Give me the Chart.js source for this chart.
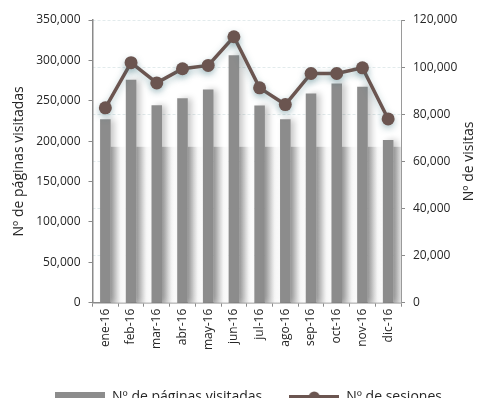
<!DOCTYPE html>
<html lang="es">
<head>
<meta charset="utf-8">
<title>Páginas visitadas y sesiones 2016</title>
<script src="https://cdn.jsdelivr.net/npm/chart.js@4/dist/chart.umd.min.js"></script>
<style>
  html, body { margin: 0; padding: 0; background: #fff; overflow: hidden; }
  canvas { display: block; }
</style>
</head>
<body>
<canvas id="grafico" width="477" height="414"></canvas>
<script>
// datos mensuales 2016
const meses = ['ene-16', 'feb-16', 'mar-16', 'abr-16', 'may-16', 'jun-16',
               'jul-16', 'ago-16', 'sep-16', 'oct-16', 'nov-16', 'dic-16'];
const paginasVisitadas = [227000, 276000, 244500, 253000, 264000, 306500,
                          244000, 227000, 259000, 271500, 267500, 201500];
const sesiones = [82700, 101900, 93300, 99300, 100700, 112900,
                  91200, 84100, 97300, 97300, 99700, 78000];
const ticksPaginas = [0, 50000, 100000, 150000, 200000, 250000, 300000, 350000];
const ticksVisitas = [0, 20000, 40000, 60000, 80000, 100000, 120000];

const GRIS_BARRA = '#8c8c8c';
const MARRON = '#6b5550';
const TEXTO = '#262626';
const EJE = '#8a8a8a';
const FUENTE = '"Open Sans", "Liberation Sans", sans-serif';
const BANDA_INFERIOR = 193000; // hasta donde llega el degradado entre columnas

const fmt = v => Number(v).toLocaleString('en-US');

// iconos de la leyenda
function iconoBarra() {
  const c = document.createElement('canvas');
  c.width = 50; c.height = 11;
  const g = c.getContext('2d');
  g.fillStyle = GRIS_BARRA;
  g.fillRect(0, 0, 50, 11);
  return c;
}
function iconoLinea() {
  const c = document.createElement('canvas');
  c.width = 50; c.height = 12;
  const g = c.getContext('2d');
  g.strokeStyle = MARRON; g.lineWidth = 4;
  g.beginPath(); g.moveTo(0, 6); g.lineTo(50, 6); g.stroke();
  g.fillStyle = MARRON;
  g.beginPath(); g.arc(25, 6, 5.5, 0, Math.PI * 2); g.fill();
  return c;
}
const iconos = [iconoBarra(), iconoLinea()];

// degradado gris entre columnas en la parte baja + sombras
const efectos = {
  id: 'efectos',
  beforeDatasetsDraw(chart) {
    const { ctx, scales } = chart;
    const meta = chart.getDatasetMeta(0);
    const top = scales.y.getPixelForValue(BANDA_INFERIOR);
    const base = scales.y.getPixelForValue(0);
    const paso = scales.x.getPixelForValue(1) - scales.x.getPixelForValue(0);
    ctx.save();
    meta.data.forEach(bar => {
      const x0 = bar.x + bar.width / 2;
      const x1 = bar.x - bar.width / 2 + paso;
      const gr = ctx.createLinearGradient(x0, 0, x1, 0);
      gr.addColorStop(0, '#bababa');
      gr.addColorStop(0.2, '#cdcdcd');
      gr.addColorStop(0.65, '#f6f6f6');
      gr.addColorStop(1, '#fdfdfd');
      ctx.fillStyle = gr;
      ctx.fillRect(x0, top, Math.min(x1, chart.chartArea.right) - x0, base - top);
    });
    ctx.restore();
  },
  beforeDatasetDraw(chart, args) {
    const ctx = chart.ctx;
    ctx.save();
    if (args.meta.type === 'bar') {
      ctx.shadowColor = 'rgba(0,0,0,0.22)';
      ctx.shadowBlur = 6;
      ctx.shadowOffsetX = 4;
    } else {
      ctx.shadowColor = 'rgba(60,115,125,0.4)';
      ctx.shadowBlur = 7;
      ctx.shadowOffsetY = 3;
    }
  },
  afterDatasetDraw(chart) {
    chart.ctx.restore();
  },
  afterLayout(chart) {
    // desplaza la leyenda un poco a la derecha
    chart.legend.left += 10;
    chart.legend.right += 10;
  },
  afterDraw(chart) {
    // título del eje derecho, leído de abajo hacia arriba
    const { ctx, chartArea, scales } = chart;
    ctx.save();
    ctx.translate(scales.y1.right - 8, (chartArea.top + chartArea.bottom) / 2);
    ctx.rotate(-Math.PI / 2);
    ctx.textAlign = 'center';
    ctx.textBaseline = 'middle';
    ctx.font = '14px ' + FUENTE;
    ctx.fillStyle = TEXTO;
    ctx.fillText('Nº de visitas', 0, 0);
    ctx.restore();
  }
};

Chart.defaults.font.family = FUENTE;
Chart.defaults.color = TEXTO;

new Chart(document.getElementById('grafico'), {
  data: {
    labels: meses,
    datasets: [
      {
        type: 'bar',
        label: 'Nº de páginas visitadas',
        data: paginasVisitadas,
        yAxisID: 'y',
        backgroundColor: GRIS_BARRA,
        categoryPercentage: 1,
        barPercentage: 0.41,
        order: 1
      },
      {
        type: 'line',
        label: 'Nº de sesiones',
        data: sesiones,
        yAxisID: 'y1',
        borderColor: MARRON,
        backgroundColor: MARRON,
        borderWidth: 3.5,
        pointRadius: 6.5,
        pointHoverRadius: 6.5,
        pointBackgroundColor: MARRON,
        pointBorderWidth: 0,
        tension: 0,
        order: 0
      }
    ]
  },
  options: {
    responsive: false,
    animation: false,
    layout: { padding: { top: 20, left: 0, right: 0, bottom: 0 } },
    plugins: {
      tooltip: { enabled: false },
      legend: {
        position: 'bottom',
        labels: {
          usePointStyle: true,
          pointStyleWidth: 50,
          padding: 27,
          color: TEXTO,
          font: { size: 14 },
          sort: (a, b) => a.datasetIndex - b.datasetIndex,
          generateLabels(chart) {
            const items = Chart.defaults.plugins.legend.labels.generateLabels(chart);
            items.forEach(it => { it.pointStyle = iconos[it.datasetIndex]; });
            return items;
          }
        }
      }
    },
    scales: {
      x: {
        offset: true,
        grid: { drawOnChartArea: false, tickLength: 4, tickColor: EJE, offset: true },
        border: { color: EJE, width: 1.5 },
        ticks: { autoSkip: false, minRotation: 90, maxRotation: 90, padding: 2, font: { size: 12 } },
        afterFit: s => { s.height = 60.3; }
      },
      y: {
        position: 'left',
        min: ticksPaginas[0],
        max: ticksPaginas[ticksPaginas.length - 1],
        ticks: { stepSize: ticksPaginas[1] - ticksPaginas[0], padding: 8, font: { size: 12 }, callback: fmt },
        grid: { drawOnChartArea: false, tickLength: 4, tickColor: EJE },
        border: { color: EJE, width: 1.5 },
        title: { display: true, text: 'Nº de páginas visitadas', font: { size: 14 }, padding: { top: 11, bottom: 0 } },
        afterFit: s => { s.width = 92.5; }
      },
      y1: {
        position: 'right',
        min: ticksVisitas[0],
        max: ticksVisitas[ticksVisitas.length - 1],
        ticks: { stepSize: ticksVisitas[1] - ticksVisitas[0], padding: 8, font: { size: 12 }, callback: fmt },
        grid: { drawOnChartArea: true, color: '#e2ebec', tickLength: 4, tickColor: EJE },
        border: { color: '#9a9a9a', width: 1, dash: [3, 2] },
        afterFit: s => { s.width = 76; }
      }
    }
  },
  plugins: [efectos]
});
</script>
</body>
</html>
